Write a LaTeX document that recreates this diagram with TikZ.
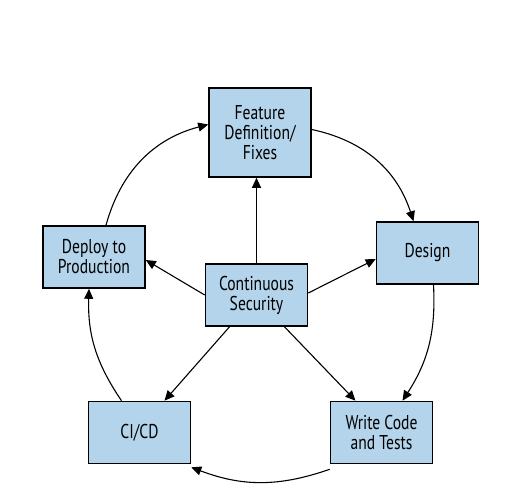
\documentclass[tikz,border=0pt]{standalone}
\usepackage{fontspec}
\setmainfont{PT Sans}[FakeStretch=0.78]
\usetikzlibrary{arrows.meta}
\definecolor{stepblue}{HTML}{B3D4EA}

\begin{document}
\begin{tikzpicture}[x=1pt,y=-1pt,
    box/.style={draw=black, line width=1.6pt, fill=stepblue, minimum width=102pt,
        minimum height=62pt, align=center, font=\fontsize{20}{20}\selectfont, inner sep=0pt},
    link/.style={-{Triangle[length=10pt,width=9pt]}, line width=1.1pt}]
            \useasboundingbox (0,0) rectangle (508,491);

            % Boxes
            \node[box, minimum height=89pt] (feature) at (260,132.5) {Feature\\Definition/\\Fixes};
            \node[box] (design) at (427.5,253) {Design};
            \node[box] (deploy) at (94,257) {Deploy to\\Production};
            \node[box] (security) at (256.5,295) {Continuous\\Security};
            \node[box] (cicd) at (139.5,432.5) {CI/CD};
            \node[box] (write) at (381.5,432.5) {Write Code\\and Tests};

            % Cycle
            \draw[link] ([yshift=3pt]feature.east) to[bend left=30] ([xshift=-14pt]design.north);
            \draw[link] ([xshift=6pt]design.south) to[bend left=18] ([xshift=21pt]write.north);
            \draw[link] ([yshift=-5pt]write.south west) to[bend left=20] ([yshift=-3pt]cicd.south east);
            \draw[link] ([xshift=-18pt]cicd.north) to[bend left=18] ([xshift=-5pt]deploy.south);
            \draw[link] ([xshift=12pt]deploy.north) to[bend left=30] ([yshift=8pt]feature.west);

            % Spokes
            \draw[link] (security.north) -- (security.north |- feature.south);
            \draw[link] (security.west) -- ([yshift=-3pt]deploy.east);
            \draw[link] ([yshift=2pt]security.east) -- ([yshift=-6pt]design.west);
            \draw[link] ([xshift=-27pt]security.south) -- ([xshift=25pt]cicd.north);
            \draw[link] ([xshift=28pt]security.south) -- ([xshift=-26pt]write.north);
\end{tikzpicture}
\end{document}
